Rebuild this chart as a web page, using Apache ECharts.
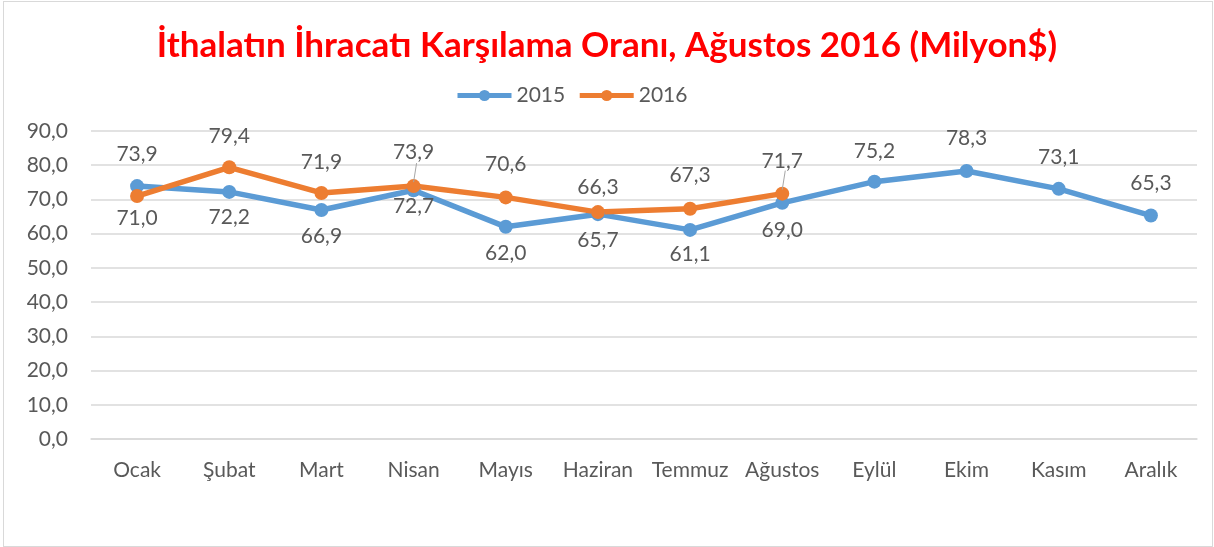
<!DOCTYPE html>
<html>
<head>
<meta charset="utf-8">
<script src="https://cdn.jsdelivr.net/npm/echarts@6/dist/echarts.min.js"></script>
<style>
  html, body { margin: 0; padding: 0; background: #fff; }
  #chart { width: 1214px; height: 547px; }
  #frame { position: absolute; left: 3px; top: 1px; width: 1210px; height: 546px;
           border: 1px solid #d9d9d9; box-sizing: border-box; pointer-events: none; }
</style>
</head>
<body>
<div id="chart"></div>
<div id="frame"></div>
<script>
// veriler
var aylar = ['Ocak', 'Şubat', 'Mart', 'Nisan', 'Mayıs', 'Haziran', 'Temmuz', 'Ağustos', 'Eylül', 'Ekim', 'Kasım', 'Aralık'];
var yil2015 = [73.9, 72.2, 66.9, 72.7, 62.0, 65.7, 61.1, 69.0, 75.2, 78.3, 73.1, 65.3];
var yil2016 = [71.0, 79.4, 71.9, 73.9, 70.6, 66.3, 67.3, 71.7];

// etiket yerleşimi (stil): pozitif = noktanın altında, negatif = üstünde (piksel)
var etiket2015 = [-32, 25, 26, 16, 26, 26, 24, 27, -30, -33, -32, -32];
var etiket2016 = [22, -31, -31, -34, -33, -25, -33, -32];
var kilavuz2016 = [3, 7]; // Nisan, Ağustos kılavuz çizgisi

var font = 'Lato, "Open Sans", sans-serif';
var metin = '#595959';
var yazi = 21;

function veriYap(degerler, kaydirma) {
  return degerler.map(function (v, i) {
    return { value: v, label: { offset: [0, kaydirma[i]] } };
  });
}

function virgul(p) {
  return p.value.toFixed(1).replace('.', ',');
}

var chart = echarts.init(document.getElementById('chart'));

var option = {
  animation: false,
  backgroundColor: '#fff',
  title: {
    text: 'İthalatın İhracatı Karşılama Oranı, Ağustos 2016 (Milyon$)',
    left: 'center',
    top: 23,
    textStyle: { color: '#ff0000', fontSize: 35, fontWeight: 'bold', fontFamily: font }
  },
  legend: {
    left: 450,
    top: 80,
    itemWidth: 54,
    itemHeight: 14,
    itemGap: 12,
    lineStyle: { width: 5 },
    textStyle: { color: metin, fontSize: yazi, fontFamily: font },
    data: ['2015', '2016']
  },
  grid: { left: 91, right: 17, top: 131, bottom: 108 },
  xAxis: {
    type: 'category',
    data: aylar,
    boundaryGap: true,
    axisLine: { lineStyle: { color: '#d9d9d9', width: 1.5 } },
    axisTick: { show: false },
    axisLabel: { color: metin, fontSize: yazi, fontFamily: font, margin: 21, interval: 0 }
  },
  yAxis: {
    type: 'value',
    min: 0,
    max: 90,
    interval: 10,
    axisLine: { show: false },
    axisTick: { show: false },
    splitLine: { lineStyle: { color: '#d9d9d9', width: 1.5 } },
    axisLabel: {
      color: metin, fontSize: yazi, fontFamily: font, margin: 23,
      formatter: function (v) { return v.toFixed(1).replace('.', ','); }
    }
  },
  series: [
    {
      name: '2015',
      type: 'line',
      data: veriYap(yil2015, etiket2015),
      symbol: 'circle',
      symbolSize: 14,
      lineStyle: { color: '#5b9bd5', width: 5.5 },
      itemStyle: { color: '#5b9bd5' },
      label: {
        show: true, position: 'inside', color: metin,
        fontSize: yazi, fontFamily: font, formatter: virgul
      }
    },
    {
      name: '2016',
      type: 'line',
      data: veriYap(yil2016, etiket2016),
      symbol: 'circle',
      symbolSize: 14,
      lineStyle: { color: '#ed7d31', width: 5.5 },
      itemStyle: { color: '#ed7d31' },
      label: {
        show: true, position: 'inside', color: metin,
        fontSize: yazi, fontFamily: font, formatter: virgul
      }
    }
  ]
};

chart.setOption(option);

// Nisan ve Ağustos 2016 için küçük kılavuz çizgileri
var parcalar = kilavuz2016.map(function (i) {
  var p = chart.convertToPixel({ seriesIndex: 1 }, [i, yil2016[i]]);
  return {
    type: 'line',
    shape: { x1: p[0] + 3, y1: p[1] - 23, x2: p[0], y2: p[1] - 4 },
    style: { stroke: '#a6a6a6', lineWidth: 1 },
    z: 10
  };
});
chart.setOption({ graphic: parcalar });
</script>
</body>
</html>
